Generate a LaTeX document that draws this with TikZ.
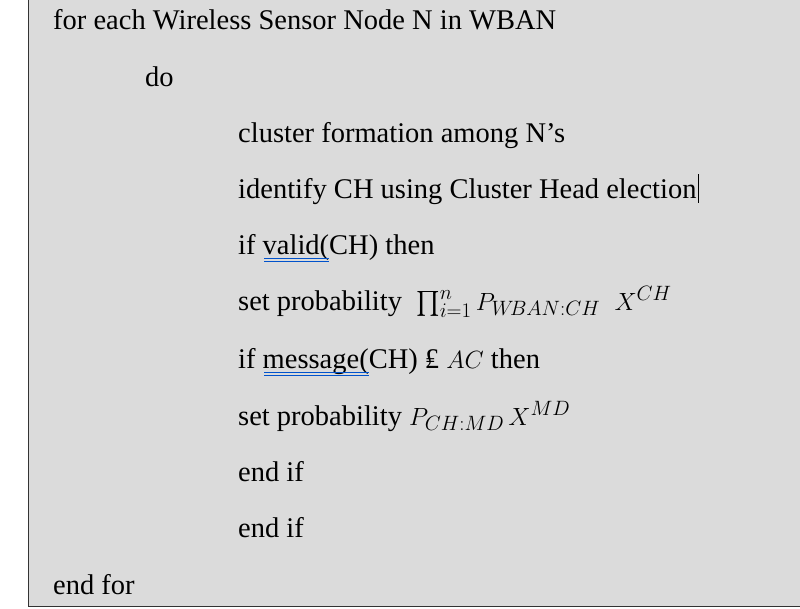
\documentclass[tikz,border=0pt]{standalone}
\usepackage{fontspec}
\usepackage{amsmath}
\setmainfont{Liberation Serif}
\usetikzlibrary{positioning}
\colorlet{panel}{black!14}
\colorlet{squiggle}{blue!60!cyan!80!black}
\begin{document}
\begin{tikzpicture}[x=1pt, y=-1pt, every node/.style = {inner sep = 0pt, anchor = base west, font = \fontsize{28.5}{32}\selectfont},
  wavy/.style = {squiggle, line width = 0.8pt}]
\useasboundingbox (0, 0) rectangle (800, 608);
\fill[white] (0, 0) rectangle (800, 608);
\fill[panel] (28, 0) rectangle (800, 606);
\draw[black!80, line width = 1pt] (28, 0) -- (28, 606) -- (800, 606);

\node (for) at (53, 29) {for each Wireless Sensor Node N in WBAN};
\node (do) at (145, 86) {do};
\node (form) at (238, 142) {cluster formation among N’s};
\node (elect) at (238, 198) {identify CH using Cluster Head election};
\node (valid) at (238, 254) {if valid(CH) then};
\node (prob1) at (238, 310) {set probability \ $\prod_{i=1}^{n} P_{W\!BAN:CH}\ \ X^{CH}$};
\node (msg) at (238, 368) {if message(CH) ₤ $AC$ then};
\node (prob2) at (238, 425) {set probability $P_{CH:MD}\,X^{MD}$};
\node (endA) at (238, 481) {end if};
\node (endB) at (238, 537) {end if};
\node (endfor) at (53, 594) {end for};

% cursor and spelling marks
\draw[black, line width = 0.8pt] (698, 174) -- (698, 203);
\draw[wavy] (264, 258) -- (329, 258) (264, 261) -- (329, 261);
\draw[wavy] (264, 372) -- (369, 372) (264, 375) -- (369, 375);
\end{tikzpicture}
\end{document}
